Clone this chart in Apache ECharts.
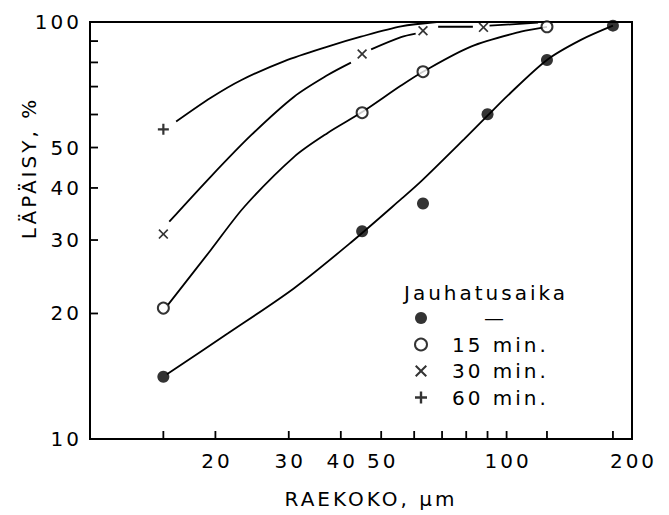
<!DOCTYPE html>
<html>
<head>
<meta charset="utf-8">
<script src="https://cdn.jsdelivr.net/npm/echarts@6/dist/echarts.min.js"></script>
<style>
  html, body { margin: 0; padding: 0; background: #fff; }
  #chart { width: 669px; height: 515px; }
  /* technical lettering: spaced-out characters */
  #chart text { letter-spacing: 3px; }
</style>
</head>
<body>
<div id="chart"></div>
<script>
// Sieve results: particle size (µm) vs. cumulative passing (%)
const sizeUnground = [15, 45, 63, 90, 125, 180];
const passUnground = [14.1, 31.5, 36.7, 60.1, 81.1, 98.0];
const size15 = [15, 45, 63, 125];
const pass15 = [20.6, 60.6, 76.0, 97.4];
const size30 = [15, 45, 63, 88];
const pass30 = [31.0, 83.8, 95.3, 97.1];
const size60 = [15];
const pass60 = [55.3];

// Hand-fitted curves [size, passing]; some are broken into pieces around the markers
const curveUnground = [
  [[15.3, 14.3], [21.4, 17.9], [30.9, 23.0], [42.3, 29.6], [55.8, 37.6], [62.5, 41.6],
   [79.1, 52.4], [90, 59.6], [100.6, 66.6], [125, 81.1], [150.8, 90.6], [180, 98.0]]
];
const curve15 = [
  [[15.4, 21.0], [19.5, 28.4], [23.5, 36.1], [30.9, 47.5], [37.2, 54.2], [45, 60.8],
   [55.8, 70.4], [63, 76.0], [82.1, 87.3], [108.2, 94.8], [125, 97.4]]
];
const curve30 = [
  [[15.5, 33.2], [19.5, 42.6], [24.4, 53.6], [30.9, 66.2], [37.2, 74.6], [42.3, 79.9]],
  [[47.3, 86.0], [55.8, 92.0], [60.5, 93.8]],
  [[68.5, 97.4], [83, 97.4]],
  [[91, 98.0], [119, 99.6]]
];
const curve60 = [
  [[16.1, 57.7], [19.5, 65.8], [23.1, 72.6], [29.3, 80.6], [37.2, 87.3], [44.7, 92.2],
   [55.8, 97.6], [68, 100]]
];

// Axis ticks and labels
const xTicks = [15, 20, 30, 40, 50, 60, 70, 80, 90, 100, 125, 180];
const xTickLabels = [20, 30, 40, 50, 100, 200];
const yTicks = [20, 30, 40, 50, 60, 70, 80, 90];
const yTickLabels = [10, 20, 30, 40, 50, 100];

const FONT = '"DejaVu Sans", sans-serif';
const INK = '#000';

const uniq = a => Array.from(new Set(a)).sort((p, q) => p - q);
const pairs = (xs, ys) => xs.map((x, i) => [x, ys[i]]);

const PLUS = 'path://M4,0H6V4H10V6H6V10H4V6H0V4H4Z';
const CROSS = 'path://M1.2,0L5,3.8L8.8,0L10,1.2L6.2,5L10,8.8L8.8,10L5,6.2L1.2,10L0,8.8L3.8,5L0,1.2Z';

function xMarks(params, api) {
  const v = api.value(0);
  const p = api.coord([v, api.value(1)]);
  const children = [];
  if (xTicks.indexOf(v) >= 0) {
    children.push({ type: 'line', shape: { x1: p[0], y1: p[1], x2: p[0], y2: p[1] - 8 },
      style: { stroke: INK, lineWidth: 1.8 } });
  }
  if (xTickLabels.indexOf(v) >= 0) {
    children.push({ type: 'text', x: p[0] + 1.5, y: p[1] + 12,
      style: { text: String(v), fill: INK, font: '20px ' + FONT, align: 'center', verticalAlign: 'top' } });
  }
  return { type: 'group', children: children };
}

function yMarks(params, api) {
  const v = api.value(1);
  const p = api.coord([api.value(0), v]);
  const children = [];
  if (yTicks.indexOf(v) >= 0) {
    children.push({ type: 'line', shape: { x1: p[0], y1: p[1], x2: p[0] + 8, y2: p[1] },
      style: { stroke: INK, lineWidth: 1.8 } });
  }
  if (yTickLabels.indexOf(v) >= 0) {
    children.push({ type: 'text', x: p[0] - 8, y: p[1],
      style: { text: String(v), fill: INK, font: '20px ' + FONT, align: 'right', verticalAlign: 'middle' } });
  }
  return { type: 'group', children: children };
}

function curveSeries(pieces) {
  return pieces.map(seg => ({
    type: 'line', data: seg, smooth: 0.3, symbol: 'none', showSymbol: false,
    lineStyle: { color: INK, width: 1.8 }, silent: true, z: 2
  }));
}

const series = [].concat(
  curveSeries(curveUnground),
  curveSeries(curve15),
  curveSeries(curve30),
  curveSeries(curve60),
  [
    { type: 'scatter', name: '—', data: pairs(sizeUnground, passUnground),
      symbol: 'circle', symbolSize: 12, itemStyle: { color: INK }, z: 4 },
    { type: 'scatter', name: '15 min.', data: pairs(size15, pass15),
      symbol: 'emptyCircle', symbolSize: 11, itemStyle: { color: INK, borderColor: INK, borderWidth: 1.8 }, z: 4 },
    { type: 'scatter', name: '30 min.', data: pairs(size30, pass30),
      symbol: CROSS, symbolSize: 10, itemStyle: { color: INK }, z: 4 },
    { type: 'scatter', name: '60 min.', data: pairs(size60, pass60),
      symbol: PLUS, symbolSize: 11, itemStyle: { color: INK }, z: 4 },
    { type: 'custom', renderItem: xMarks, silent: true, clip: false, z: 6,
      data: uniq(xTicks.concat(xTickLabels)).map(v => [v, 10]) },
    { type: 'custom', renderItem: yMarks, silent: true, clip: false, z: 6,
      data: uniq(yTicks.concat(yTickLabels)).map(v => [10, v]) }
  ]
);

const chart = echarts.init(document.getElementById('chart'), null, { renderer: 'svg' });
chart.setOption({
  animation: false,
  backgroundColor: '#fff',
  textStyle: { fontFamily: FONT, color: INK },
  grid: { left: 90, right: 37, top: 22, bottom: 76, show: true, borderColor: INK, borderWidth: 2 },
  xAxis: {
    type: 'log', logBase: 10, min: 10, max: 200,
    axisLine: { show: false }, axisTick: { show: false }, axisLabel: { show: false }, splitLine: { show: false }
  },
  yAxis: {
    type: 'log', logBase: 10, min: 10, max: 100,
    axisLine: { show: false }, axisTick: { show: false }, axisLabel: { show: false }, splitLine: { show: false }
  },
  title: {
    text: 'Jauhatusaika', left: 404, top: 283, padding: 0,
    textStyle: { fontSize: 20, fontWeight: 'normal', fontFamily: FONT, color: INK }
  },
  legend: {
    orient: 'vertical', left: 414, top: 306, padding: 0,
    itemWidth: 12, itemHeight: 12, itemGap: 2.5,
    data: [
      { name: '—', textStyle: { padding: [0, 0, 0, 52] } },
      { name: '15 min.' }, { name: '30 min.' }, { name: '60 min.' }
    ],
    textStyle: { fontSize: 20, fontFamily: FONT, color: INK, lineHeight: 24, padding: [0, 0, 0, 20] },
    selectedMode: false
  },
  graphic: [
    { type: 'text', x: 29, y: 168, rotation: Math.PI / 2,
      style: { text: 'LÄPÄISY, %', font: '20px ' + FONT, fill: INK, align: 'center', verticalAlign: 'middle' } },
    { type: 'text', x: 371, y: 499,
      style: { text: 'RAEKOKO, µm', font: '20px ' + FONT, fill: INK, align: 'center', verticalAlign: 'middle' } }
  ],
  series: series
});
</script>
</body>
</html>
